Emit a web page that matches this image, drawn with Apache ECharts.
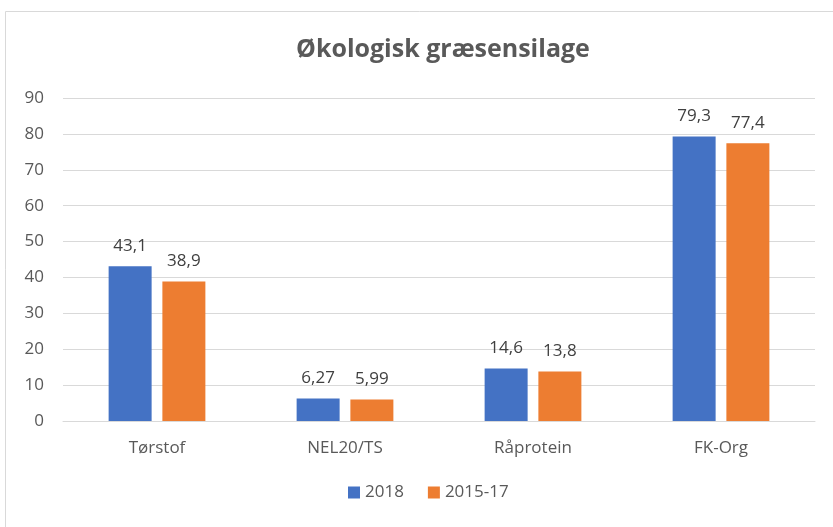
<!DOCTYPE html>
<html>
<head>
<meta charset="utf-8">
<script src="https://cdn.jsdelivr.net/npm/echarts@6/dist/echarts.min.js"></script>
<style>
  html, body { margin: 0; padding: 0; background: #fff; }
  #main { width: 833px; height: 527px; }
</style>
</head>
<body>
<div id="main"></div>
<script>
// data
var categories = ['Tørstof', 'NEL20/TS', 'Råprotein', 'FK-Org'];
var values2018 = [43.1, 6.27, 14.6, 79.3];
var values201517 = [38.9, 5.99, 13.8, 77.4];
var yTicks = { min: 0, max: 90, interval: 10 };

var chart = echarts.init(document.getElementById('main'));

var fontName = '"Open Sans", "DejaVu Sans", sans-serif';

// komma som decimaltegn
function fmt(p) {
  return String(p.value).replace('.', ',');
}

var option = {
  animation: false,
  textStyle: { fontFamily: fontName },
  graphic: [{
    type: 'rect',   // kant rundt om diagrammet (fortsætter ud over højre/bund)
    shape: { x: 5.5, y: 11.5, width: 840, height: 530 },
    style: { fill: 'none', stroke: '#d9d9d9', lineWidth: 1 },
    silent: true
  }],
  title: {
    text: 'Økologisk græsensilage',
    left: 291,
    top: 32,
    textStyle: {
      fontFamily: fontName,
      fontSize: 25,
      fontWeight: 'bold',
      color: '#595959'
    }
  },
  legend: {
    data: ['2018', '2015-17'],
    bottom: 21,
    left: 343,
    itemWidth: 12,
    itemHeight: 12,
    itemGap: 24,
    icon: 'rect',
    textStyle: { fontSize: 17, color: '#595959' }
  },
  grid: {
    left: 63,
    right: 18,
    top: 98,
    bottom: 106
  },
  xAxis: {
    type: 'category',
    data: categories,
    axisTick: { show: false },
    axisLine: { lineStyle: { color: '#d9d9d9' } },
    axisLabel: { fontSize: 17, color: '#595959', margin: 19 }
  },
  yAxis: {
    type: 'value',
    min: yTicks.min,
    max: yTicks.max,
    interval: yTicks.interval,
    axisLine: { show: false },
    axisTick: { show: false },
    splitLine: { lineStyle: { color: '#d9d9d9' } },
    axisLabel: { fontSize: 17, color: '#595959', margin: 19 }
  },
  series: [{
    name: '2018',
    type: 'bar',
    data: values2018,
    barWidth: 43,
    barGap: '25%',
    itemStyle: { color: '#4472C4' },
    label: {
      show: true,
      position: 'top',
      distance: 12,
      fontSize: 17,
      color: '#404040',
      formatter: fmt
    }
  }, {
    name: '2015-17',
    type: 'bar',
    data: values201517,
    barWidth: 43,
    itemStyle: { color: '#ED7D31' },
    label: {
      show: true,
      position: 'top',
      distance: 12,
      fontSize: 17,
      color: '#404040',
      formatter: fmt
    }
  }]
};

chart.setOption(option);
</script>
</body>
</html>
